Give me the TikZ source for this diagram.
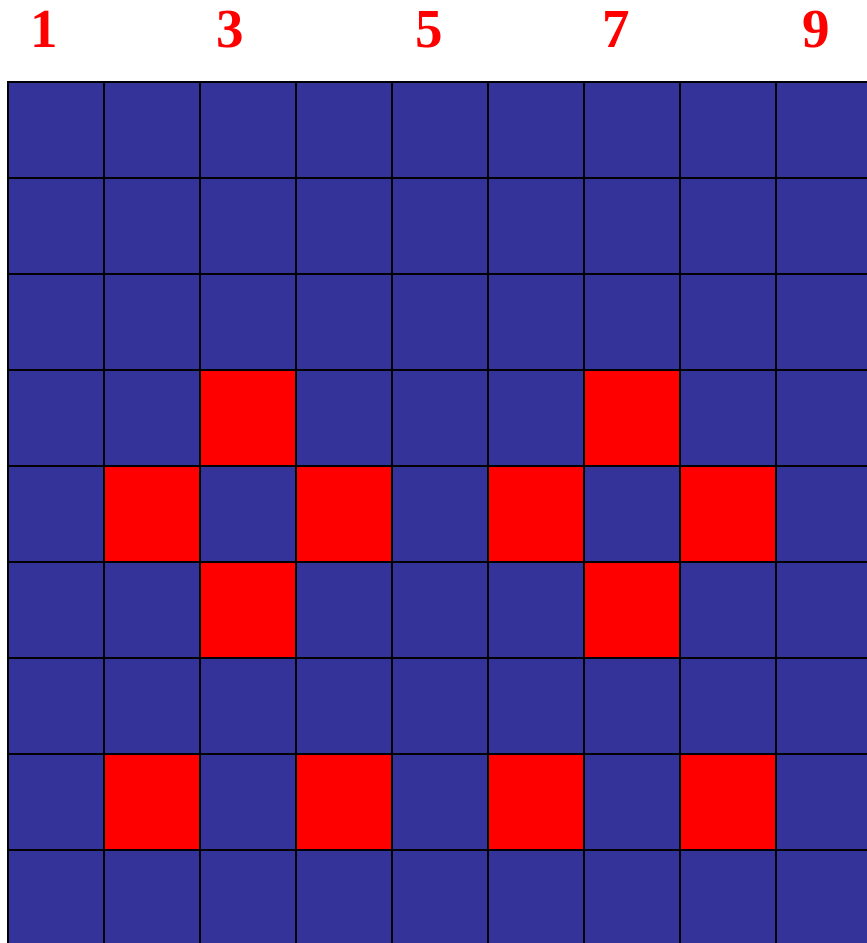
\documentclass[tikz,border=0pt]{standalone}
\usepackage{fontspec}
\setmainfont{Liberation Serif}
\definecolor{gridblue}{HTML}{333399}
\definecolor{gridred}{HTML}{FF0000}
\begin{document}
\begin{tikzpicture}[x=1pt,y=-1pt,
  cellbox/.style={fill=gridblue,draw=black,line width=2pt},
  redbox/.style={fill=gridred,draw=black,line width=2pt},
  numlabel/.style={text=gridred,font=\bfseries\fontsize{55}{60}\selectfont,anchor=base,inner sep=0pt}]
\useasboundingbox (0,0) rectangle (867,943);
\clip (0,0) rectangle (867,943);
\foreach \r in {0,...,8}{
  \foreach \c in {0,...,8}{
    \draw[cellbox] ({8+96*\c},{82+96*\r}) rectangle ++(96,96);
  }
}
\foreach \c/\r in {2/3,6/3,1/4,3/4,5/4,7/4,2/5,6/5,1/7,3/7,5/7,7/7}{
  \draw[redbox] ({8+96*\c},{82+96*\r}) rectangle ++(96,96);
}
\node[numlabel] (l1) at (44,47) {1};
\node[numlabel] (l3) at (230,47) {3};
\node[numlabel] (l5) at (429,47) {5};
\node[numlabel] (l7) at (616,47) {7};
\node[numlabel] (l9) at (816,47) {9};
\end{tikzpicture}
\end{document}
